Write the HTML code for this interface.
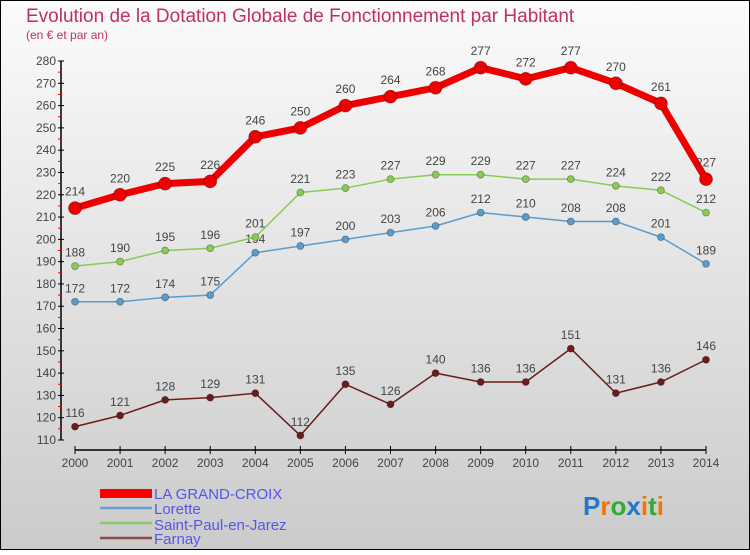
<!DOCTYPE html>
<html><head><meta charset="utf-8"><style>
html,body{margin:0;padding:0}
body{width:750px;height:550px;overflow:hidden;font-family:"Liberation Sans","DejaVu Sans",sans-serif}
</style></head><body>
<svg id="c" width="750" height="550" xmlns="http://www.w3.org/2000/svg">
<defs><linearGradient id="bg" x1="0" y1="0" x2="0" y2="1"><stop offset="0" stop-color="#fbfbfb"/><stop offset="1" stop-color="#cbcbcb"/></linearGradient></defs>
<rect x="0.5" y="0.5" width="749" height="549" fill="url(#bg)" stroke="#000" stroke-width="1"/>
<text x="26" y="22" font-size="19" fill="#c03060">Evolution de la Dotation Globale de Fonctionnement par Habitant</text>
<text x="26" y="39" font-size="12" fill="#c03060">(en € et par an)</text>
<g id="axes"></g><g id="series"></g>
<g>
<rect x="100" y="489" width="52" height="9" fill="#ff0000"/>
<text x="154" y="499" font-size="15" fill="#5555ee">LA GRAND-CROIX</text>
<line x1="100" y1="508" x2="152" y2="508" stroke="#6aa0cc" stroke-width="2.5"/>
<text x="154" y="514" font-size="15" fill="#5555ee">Lorette</text>
<line x1="100" y1="523" x2="152" y2="523" stroke="#88cc66" stroke-width="2.5"/>
<text x="154" y="530" font-size="15" fill="#5555ee">Saint-Paul-en-Jarez</text>
<line x1="100" y1="538" x2="152" y2="538" stroke="#8b4a4a" stroke-width="2.5"/>
<text x="154" y="544" font-size="15" fill="#5555ee">Farnay</text>
</g>
<text x="583" y="515" font-size="26" font-weight="bold"><tspan fill="#2277cc">P</tspan><tspan fill="#ee7700">r</tspan><tspan fill="#33aa33">o</tspan><tspan fill="#2277cc">x</tspan><tspan fill="#ee7700">i</tspan><tspan fill="#33aa33">t</tspan><tspan fill="#ee7700">i</tspan></text>
</svg>
<script>
const years=[2000,2001,2002,2003,2004,2005,2006,2007,2008,2009,2010,2011,2012,2013,2014];
const yTicks=[110,120,130,140,150,160,170,180,190,200,210,220,230,240,250,260,270,280];
const grandCroix=[214,220,225,226,246,250,260,264,268,277,272,277,270,261,227];
const lorette=[172,172,174,175,194,197,200,203,206,212,210,208,208,201,189];
const saintPaul=[188,190,195,196,201,221,223,227,229,229,227,227,224,222,212];
const farnay=[116,121,128,129,131,112,135,126,140,136,136,151,131,136,146];
const NS="http://www.w3.org/2000/svg";
const xS=i=>75+i*(706-75)/14;
const yS=v=>440-(v-110)*(440-61)/170;
function mk(t,a,p){const e=document.createElementNS(NS,t);for(const k in a)e.setAttribute(k,a[k]);p.appendChild(e);return e;}
const ax=document.getElementById('axes');
mk('line',{x1:61,y1:61,x2:61,y2:440,stroke:'#000','stroke-width':1.5},ax);
mk('line',{x1:75,y1:450,x2:706,y2:450,stroke:'#000','stroke-width':1.5},ax);
yTicks.forEach((v,i)=>{
 const y=yS(v);
 const t=mk('line',{x1:58,y1:y,x2:64,y2:y,stroke:'#000'},ax);
 
 if(i<yTicks.length-1){mk('line',{x1:58,y1:yS(v+5),x2:61,y2:yS(v+5),stroke:'#e00'},ax);}
 const l=mk('text',{x:56,y:y+4,'font-size':12,'text-anchor':'end',fill:'#444'},ax);l.textContent=v;
 
});
years.forEach((yr,i)=>{
 const x=xS(i);
 mk('line',{x1:x,y1:446,x2:x,y2:454,stroke:'#000'},ax);
 const l=mk('text',{x:x,y:467,'font-size':12,'text-anchor':'middle',fill:'#444'},ax);l.textContent=yr;
 
});
const sg=document.getElementById('series');
function series(name,data,color,w,r){
 const g=mk('g',{},sg);
 
 mk('polyline',{points:data.map((v,i)=>xS(i)+','+yS(v)).join(' '),fill:'none',stroke:color,'stroke-width':w,'stroke-linejoin':'round'},g);
 data.forEach((v,i)=>{
  const c=mk('circle',{cx:xS(i),cy:yS(v),r:r,fill:color,stroke:'rgba(0,0,0,0.35)','stroke-width':0.8},g);
  
  const t=mk('text',{x:xS(i),y:yS(v)-(r+6),'font-size':12,'text-anchor':'middle',fill:'#444'},g);t.textContent=v;
  
 });
}
series('farnay-series',farnay,'#6b1c1c',1.5,3.5);
series('lorette-series',lorette,'#5a9ccc',1.5,3.5);
series('saint-paul-series',saintPaul,'#88cc55',1.5,3.5);
series('grand-croix-series',grandCroix,'#ee0000',7,6.5);
</script>
</body></html>
